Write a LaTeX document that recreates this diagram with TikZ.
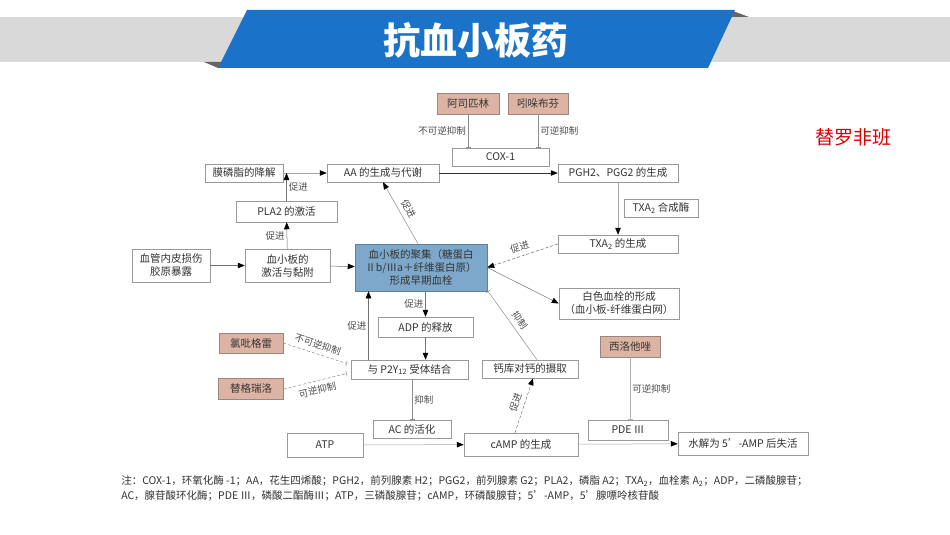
\documentclass[tikz,border=0pt]{standalone}
\usepackage{fontspec}
\setmainfont{Noto Sans CJK SC}
\usetikzlibrary{arrows.meta,positioning}
\definecolor{drugfill}{HTML}{DDB3A3}
\definecolor{drugline}{HTML}{9A8580}
\definecolor{aggfill}{HTML}{7EA8CB}
\definecolor{aggline}{HTML}{5A82A8}
\definecolor{bannerblue}{HTML}{1A73C8}
\definecolor{bandgray}{HTML}{D9D9D9}
\newcommand{\dgfont}{\fontsize{10.5}{13}\selectfont}
\newcommand{\lblfont}{\fontsize{9.5}{11}\selectfont}
\newcommand{\notefont}{\fontsize{10.5}{12}\selectfont}

\begin{document}
\begin{tikzpicture}[x=1pt, y=-1pt, line width=0.5pt,
  box/.style={draw=black!40, fill=white, inner sep=0pt, text=black!80, font=\dgfont, align=center},
  drug/.style={box, draw=drugline, fill=drugfill},
  lbl/.style={font=\lblfont, text=black!70, inner sep=2pt},
  slbl/.style={lbl, sloped, inner sep=4.5pt},
  arr/.style={draw=black!55, -{Triangle[length=7pt,width=5.5pt,color=black]}},
  inh/.style={draw=black!45, -{Bar[width=5pt]}}]
  \fill[white] (0,0) rectangle (950,535);
  \useasboundingbox (0,0) rectangle (950,535);
  \fill[bandgray] (0,17) rectangle (950,62);
  \fill[black!60] (204,62) -- (224,62) -- (218,68) -- cycle;
  \fill[black!60] (730,10) -- (749,17) -- (732,17) -- cycle;
  \fill[bannerblue] (247,10) -- (735,10) -- (708,68) -- (218,68) -- cycle;
  \node (title) [text=white, font=\fontsize{37}{40}\selectfont\bfseries] at (476,40) {抗血小板药};
  \node (tirofiban) [text=red!85!black, font=\fontsize{19}{22}\selectfont] at (853,137) {替罗非班};

  \node (aspirin) [drug, minimum width=62, minimum height=21] at (468,103.5) {阿司匹林};
  \node (indobufen) [drug, minimum width=60, minimum height=21] at (538,103.5) {吲哚布芬};
  \node (cox) [box, minimum width=97, minimum height=18] at (500.5,157) {COX-1};
  \node (mpl) [box, minimum width=78, minimum height=18] at (244,173) {膜磷脂的降解};
  \node (aa) [box, minimum width=112, minimum height=18] at (383,173) {AA 的生成与代谢};
  \node (pgh) [box, minimum width=120, minimum height=18] at (618,173) {PGH2、PGG2 的生成};
  \node (pla) [box, minimum width=101, minimum height=21] at (286.5,211.5) {PLA2 的激活};
  \node (txas) [box, minimum width=74, minimum height=18] at (661,208) {TXA\textsubscript{2} 合成酶};
  \node (txa) [box, minimum width=120, minimum height=18] at (618,244) {TXA\textsubscript{2} 的生成};
  \node (injury) [box, minimum width=78, minimum height=33] at (171,265.5) {血管内皮损伤\\胶原暴露};
  \node (act) [box, minimum width=85, minimum height=33] at (287.5,265.5) {血小板的\\激活与黏附};
  \node (agg) [box, draw=aggline, fill=aggfill, minimum width=132, minimum height=47] at (421,267.5)
    {血小板的聚集（糖蛋白\\Ⅱb/Ⅲa＋纤维蛋白原）\\形成早期血栓};
  \node (white) [box, minimum width=120, minimum height=31] at (619,303.5) {白色血栓的形成\\（血小板-纤维蛋白网）};
  \node (adp) [box, minimum width=95, minimum height=20] at (425.5,327) {ADP 的释放};
  \node (p2y) [box, minimum width=117, minimum height=19] at (409.5,369.5) {与 P2Y\textsubscript{12} 受体结合};
  \node (clop) [drug, minimum width=64, minimum height=20] at (251,343) {氯吡格雷};
  \node (tica) [drug, minimum width=65, minimum height=21] at (251,389) {替格瑞洛};
  \node (ca) [box, minimum width=96, minimum height=18] at (530,369) {钙库对钙的摄取};
  \node (cilo) [drug, minimum width=60, minimum height=21] at (630,346.5) {西洛他唑};
  \node (acact) [box, minimum width=78, minimum height=18] at (412,429) {AC 的活化};
  \node (atp) [box, minimum width=76, minimum height=24] at (325,445) {ATP};
  \node (camp) [box, minimum width=114, minimum height=23] at (521,444.5) {cAMP 的生成};
  \node (pde) [box, minimum width=80, minimum height=20] at (628,430) {PDE Ⅲ};
  \node (hyd) [box, minimum width=130, minimum height=23] at (743,443.5) {水解为 5'-AMP 后失活};

  \draw[inh] (aspirin) -- (aspirin |- cox.north) node[lbl, midway, left] {不可逆抑制};
  \draw[inh] (indobufen) -- (indobufen |- cox.north) node[lbl, midway, right] {可逆抑制};
  \draw[arr, draw=black!35] (mpl) -- (aa);
  \draw[arr, draw=black!80] (aa) -- (pgh);
  \draw[arr] (pla.north) -- (pla.north |- mpl.east) node[lbl, midway, right] {促进};
  \draw[arr] (act) -- (pla) node[lbl, midway, left] {促进};
  \draw[arr] (injury) -- (act);
  \draw[arr] (act) -- (agg);
  \draw[arr, draw=black!45] ([xshift=-3pt]agg.north) -- (aa.south) node[slbl, midway, above] {促进};
  \draw[arr, draw=black!35] (pgh) -- (txa);
  \draw[arr, densely dashed, draw=black!55] (txa.west) -- (agg.east) node[slbl, midway, above] {促进};
  \draw[arr] (agg.east) -- (white.west);
  \draw[arr] (adp |- agg.south) -- (adp) node[lbl, midway, left] {促进};
  \draw[arr] (adp) -- (adp |- p2y.north);
  \draw[arr] ([xshift=-41pt]p2y.north) -- ([xshift=-41pt]p2y.north |- agg.south) node[lbl, midway, left] {促进};
  \draw[inh, densely dashed] (clop.east) -- ([xshift=-4pt,yshift=6pt]p2y.west) node[slbl, midway, above] {不可逆抑制};
  \draw[inh, densely dashed] (tica.east) -- ([xshift=-4pt,yshift=-4pt]p2y.west) node[slbl, midway, below] {可逆抑制};
  \draw[inh] ([xshift=7pt]ca.north) -- ([xshift=67pt]agg.south) node[slbl, midway, above] {抑制};
  \draw[inh] (acact |- p2y.south) -- (acact.north) node[lbl, midway, right] {抑制};
  \draw[arr, draw=black!35] (atp) -- (camp);
  \draw[arr, densely dashed] ([xshift=-6pt]camp.north) -- ([xshift=3pt]ca.south) node[slbl, midway, above] {促进};
  \draw[inh, draw=black!30] (cilo) -- (cilo |- pde.north) node[lbl, midway, right] {可逆抑制};
  \draw[arr, draw=black!35] (camp) -- (hyd);

  \node (note1) [anchor=west, font=\notefont, text=black!80, inner sep=0pt] at (121,481)
    {注：COX-1，环氧化酶 -1；AA，花生四烯酸；PGH2，前列腺素 H2；PGG2，前列腺素 G2；PLA2，磷脂 A2；TXA\textsubscript{2}，血栓素 A\textsubscript{2}；ADP，二磷酸腺苷；};
  \node (note2) [below=4pt of note1.south west, anchor=north west, font=\notefont, text=black!80, inner sep=0pt]
    {AC，腺苷酸环化酶；PDE Ⅲ，磷酸二酯酶Ⅲ；ATP，三磷酸腺苷；cAMP，环磷酸腺苷；5'-AMP，5'腺嘌呤核苷酸};
\end{tikzpicture}
\end{document}
